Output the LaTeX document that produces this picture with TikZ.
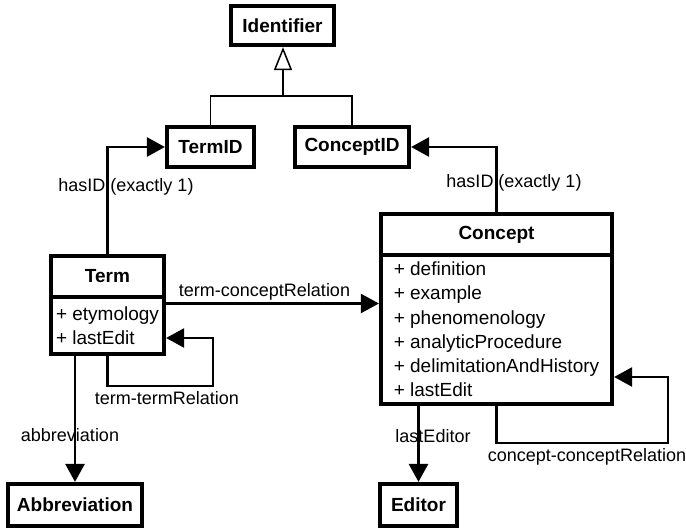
\documentclass[tikz,border=0pt]{standalone}
\usepackage{fontspec}
\setmainfont{Liberation Sans}
\usetikzlibrary{arrows.meta}

\begin{document}
\begin{tikzpicture}[x=1pt,y=-1pt,
  classbox/.style={draw, line width=3.7pt, fill=white, inner sep=0pt,
    font=\fontsize{19}{24}\selectfont\bfseries, align=center},
  attrbox/.style={draw, line width=3.7pt, fill=white, inner sep=0pt,
    font=\fontsize{19}{24.2}\selectfont, align=left},
  lbl/.style={font=\fontsize{18}{22}\selectfont, inner sep=0pt},
  assoc/.style={line width=2.8pt, -{Triangle[length=18pt,width=19pt]}},
  loopline/.style={line width=2.4pt, -{Triangle[length=18pt,width=19pt]}},
  genline/.style={line width=1.5pt}
]
\useasboundingbox (0,0) rectangle (686,529);

% classes
\node[classbox, minimum width=103.5pt, minimum height=39.5pt] (ident) at (282.5,25.5) {Identifier};
\node[classbox, minimum width=87.5pt, minimum height=40.5pt] (tid) at (210.5,147) {TermID};
\node[classbox, minimum width=114.5pt, minimum height=40.5pt] (cid) at (352,147) {ConceptID};

\node[classbox, minimum width=113.5pt, minimum height=41pt] (termH) at (107.5,276.5) {Term};
\node[attrbox, minimum width=113.5pt, minimum height=57pt] (termB) at (107.5,325.5)
  {+ etymology\\+ lastEdit};

\node[classbox, minimum width=231.5pt, minimum height=41pt] (conH) at (496.5,234.5) {Concept};
\node[attrbox, minimum width=231.5pt, minimum height=149pt] (conB) at (496.5,329.5)
  {+ definition\\+ example\\+ phenomenology\\+ analyticProcedure\\+ delimitationAndHistory\\+ lastEdit};

\node[classbox, minimum width=134.5pt, minimum height=42.5pt] (abbr) at (75,505) {Abbreviation};
\node[classbox, minimum width=77.5pt, minimum height=42.5pt] (ed) at (418.5,505) {Editor};

% generalization
\coordinate (gj) at (283,96);
\draw[genline] (tid.north) |- (gj) -| (cid.north);
\draw[genline, -{Triangle[open,length=23pt,width=18pt,fill=white]}] (gj) -- (ident.south -| gj);

% identifiers
\draw[assoc] (termH.north) |- (tid.west);
\draw[assoc] (conH.north) |- (cid.east);
\node[lbl] (lhasT) at (126,187) {hasID (exactly 1)};
\node[lbl] (lhasC) at (514,183) {hasID (exactly 1)};

% term to concept
\coordinate (tc) at ([yshift=22pt]termB.east);
\draw[line width=2.1pt, -{Triangle[length=18pt,width=19pt]}] (tc) -- (tc -| conB.west);
\node[lbl] (ltc) at (264.5,292) {term-conceptRelation};

% term self relation
\coordinate (tt1) at (213,386);
\coordinate (tt2) at (213,338);
\draw[loopline] (termB.south) |- (tt1) -- (tt2) -- (termB.east |- tt2);
\node[lbl] (ltt) at (167,398) {term-termRelation};

% concept self relation
\coordinate (cc1) at (668,443);
\coordinate (cc2) at (668,377);
\draw[loopline] (conB.south) |- (cc1) -- (cc2) -- (conB.east |- cc2);
\node[lbl] (lcc) at (587,457) {concept-conceptRelation};

% abbreviation and editor
\draw[assoc] (abbr.north |- termB.south) -- (abbr.north);
\node[lbl] (lab) at (70,435) {abbreviation};
\draw[assoc] (ed.north |- conB.south) -- (ed.north);
\node[lbl] (led) at (433,436) {lastEditor};
\end{tikzpicture}
\end{document}
